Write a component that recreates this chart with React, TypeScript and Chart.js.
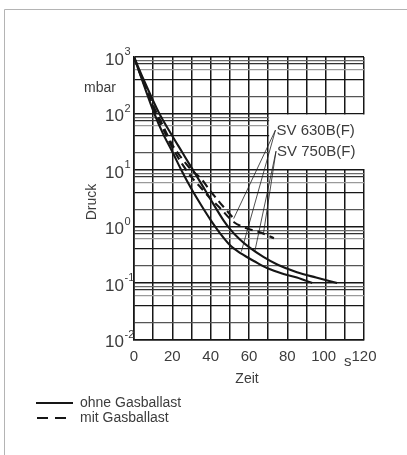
import React, { useEffect, useRef } from 'react';
import { Chart, registerables } from 'chart.js';

Chart.register(...registerables);

// ---- data (time in s, pressure in mbar) ----
const T_SOLID_A = [0, 5, 10.6, 15, 20, 25, 30, 35, 40, 45, 50, 56, 63, 70, 78, 85, 93];
const P_SOLID_A = [1000, 330, 100, 45, 21, 9.5, 4.6, 2.4, 1.3, 0.75, 0.47, 0.33, 0.24, 0.18, 0.145, 0.125, 0.1];

const T_SOLID_B = [0, 5, 13.2, 20, 25, 30, 35, 40, 46.6, 50, 55, 60, 67.5, 75, 85, 95, 106];
const P_SOLID_B = [1000, 400, 100, 40, 21, 11, 5.8, 3.0, 1.3, 0.91, 0.6, 0.43, 0.29, 0.21, 0.155, 0.125, 0.1];

const T_DASH_A = [0, 5, 10, 15, 20, 25, 30, 35, 40, 45, 52];
const P_DASH_A = [1000, 360, 140, 62, 28, 16, 10, 7, 4.2, 2.6, 1.38];

const T_DASH_B = [0, 5, 10, 15, 20, 25, 30, 35, 40, 45, 52, 58, 66, 73];
const P_DASH_B = [1000, 350, 130, 55, 25, 13, 7.5, 4.8, 3.1, 2.1, 1.2, 0.95, 0.78, 0.62];

// annotation labels and their leader lines
const LABEL_TEXTS = ['SV 630B(F)', 'SV 750B(F)'];
const LABEL_T = [73.8, 74.1];
const LABEL_P = [50.8, 21.5];
const LEADER_LABEL = [0, 0, 1, 1];
const LEADER_T = [52, 56, 63, 67.5];
const LEADER_P = [1.38, 0.36, 0.36, 0.74];

// axes
const X_GRID = [0, 10, 20, 30, 40, 50, 60, 70, 80, 90, 100, 110, 120];
const X_LABELS = [0, 20, 40, 60, 80, 100, 120];
const Y_EXPONENTS = [3, 2, 1, 0, -1, -2];
const Y_MINOR_MANTISSAS = [2, 4, 6, 7.5, 8.5];
const X_TITLE = 'Zeit';
const X_UNIT = 's';
const Y_TITLE = 'Druck';
const Y_UNIT = 'mbar';
const LEGEND_TEXTS = ['ohne Gasballast', 'mit Gasballast'];

const FONT = '"Liberation Sans", Arial, Helvetica, sans-serif';
const TEXT = '#3c3c3c';
const INK = '#161616';

function pts(t: number[], p: number[]) {
  return t.map((x, i) => ({ x, y: p[i] }));
}

function buildYGrid(): number[] {
  const out: number[] = [];
  for (let e = -2; e <= 3; e++) {
    out.push(Math.pow(10, e));
    if (e < 3) {
      for (const m of Y_MINOR_MANTISSAS) out.push(m * Math.pow(10, e));
    }
  }
  return out.sort((a, b) => a - b);
}

function mantissa(v: number): number {
  const e = Math.floor(Math.log10(v) + 1e-9);
  return Math.round((v / Math.pow(10, e)) * 100) / 100;
}

export default function App() {
  const ref = useRef<HTMLCanvasElement>(null);

  useEffect(() => {
    const canvas = ref.current;
    if (!canvas) return;
    const yGrid = buildYGrid();

    const overlay = {
      id: 'overlay',
      beforeDraw(chart: any) {
        const ctx = chart.ctx;
        ctx.save();
        ctx.fillStyle = '#ffffff';
        ctx.fillRect(0, 0, chart.width, chart.height);
        ctx.strokeStyle = '#b4b4b4';
        ctx.lineWidth = 1;
        ctx.beginPath();
        ctx.moveTo(4.5, chart.height);
        ctx.lineTo(4.5, 9.5);
        ctx.lineTo(chart.width, 9.5);
        ctx.stroke();
        ctx.restore();
      },
      beforeDatasetsDraw(chart: any) {
        const ctx = chart.ctx;
        const xs = chart.scales.x;
        const ys = chart.scales.y;
        ctx.save();
        ctx.fillStyle = '#ffffff';
        const x0 = xs.getPixelForValue(70) + 1;
        const x1 = xs.getPixelForValue(120) + 3;
        const y0 = ys.getPixelForValue(100) + 1;
        const y1 = ys.getPixelForValue(10) - 1;
        ctx.fillRect(x0, y0, x1 - x0, y1 - y0);
        ctx.restore();
      },
      afterDraw(chart: any) {
        const ctx = chart.ctx;
        const xs = chart.scales.x;
        const ys = chart.scales.y;
        const area = chart.chartArea;
        ctx.save();
        ctx.fillStyle = TEXT;

        // y tick labels 10^n
        for (const e of Y_EXPONENTS) {
          const py = ys.getPixelForValue(Math.pow(10, e));
          ctx.font = `17px ${FONT}`;
          ctx.textAlign = 'right';
          ctx.textBaseline = 'middle';
          ctx.fillText('10', area.left - 10, py + 3);
          ctx.font = `11px ${FONT}`;
          ctx.textAlign = 'left';
          ctx.fillText(String(e), area.left - 9.5, py - 5);
        }

        // x tick labels
        ctx.font = `15px ${FONT}`;
        ctx.textAlign = 'center';
        ctx.textBaseline = 'middle';
        for (const v of X_LABELS) {
          const px = xs.getPixelForValue(v) - (v === 100 ? 2 : 0);
          ctx.fillText(String(v), px, area.bottom + 17.5);
        }
        ctx.fillText(X_UNIT, (xs.getPixelForValue(110) + xs.getPixelForValue(113)) / 2, area.bottom + 22.5);

        // axis titles
        ctx.font = `14px ${FONT}`;
        ctx.fillText(X_TITLE, (area.left + area.right) / 2 - 2, area.bottom + 39.5);
        ctx.textAlign = 'right';
        ctx.fillText(Y_UNIT, area.left - 18, area.top + 31);
        ctx.save();
        ctx.translate(area.left - 42, area.top + 145);
        ctx.rotate(-Math.PI / 2);
        ctx.textAlign = 'center';
        ctx.fillText(Y_TITLE, 0, 0);
        ctx.restore();

        // annotation labels
        ctx.font = `15px ${FONT}`;
        ctx.textAlign = 'left';
        ctx.textBaseline = 'middle';
        LABEL_TEXTS.forEach((txt, i) => {
          const px = xs.getPixelForValue(LABEL_T[i]);
          const py = ys.getPixelForValue(LABEL_P[i]);
          ctx.fillText(txt, px + 1, py + 1);
        });

        // legend
        const lx0 = 36, lx1 = 73, ly0 = area.bottom + 63.5, ly1 = area.bottom + 78.5;
        ctx.strokeStyle = INK;
        ctx.lineWidth = 2;
        ctx.beginPath();
        ctx.moveTo(lx0, ly0);
        ctx.lineTo(lx1, ly0);
        ctx.stroke();
        ctx.setLineDash([11, 7]);
        ctx.beginPath();
        ctx.moveTo(lx0 + 1, ly1);
        ctx.lineTo(lx1, ly1);
        ctx.stroke();
        ctx.setLineDash([]);
        ctx.font = `14px ${FONT}`;
        ctx.fillStyle = TEXT;
        ctx.textAlign = 'left';
        ctx.fillText(LEGEND_TEXTS[0], 80, ly0);
        ctx.fillText(LEGEND_TEXTS[1], 80, ly1);
        ctx.restore();
      },
    };

    const curve = (data: any[], dashed: boolean) => ({
      data,
      borderColor: INK,
      borderWidth: 2.1,
      borderDash: dashed ? [8, 5] : [],
      pointRadius: 0,
      fill: false,
      cubicInterpolationMode: 'monotone' as const,
    });

    const leaders = LEADER_T.map((t, i) => ({
      data: [
        { x: LABEL_T[LEADER_LABEL[i]], y: LABEL_P[LEADER_LABEL[i]] },
        { x: t, y: LEADER_P[i] },
      ],
      borderColor: '#222222',
      borderWidth: 0.8,
      pointRadius: 0,
      fill: false,
    }));

    const chart = new Chart(canvas, {
      type: 'line',
      data: {
        datasets: [
          curve(pts(T_SOLID_A, P_SOLID_A), false),
          curve(pts(T_SOLID_B, P_SOLID_B), false),
          curve(pts(T_DASH_A, P_DASH_A), true),
          curve(pts(T_DASH_B, P_DASH_B), true),
          ...leaders,
        ] as any,
      },
      options: {
        animation: false,
        responsive: false,
        devicePixelRatio: 1,
        layout: { padding: { left: 134, top: 57, right: 43, bottom: 115.5 } },
        plugins: { legend: { display: false }, tooltip: { enabled: false } },
        scales: {
          x: {
            type: 'linear',
            min: 0,
            max: 120,
            afterBuildTicks: (scale: any) => {
              scale.ticks = X_GRID.map((v) => ({ value: v }));
            },
            ticks: { display: false },
            grid: { color: INK, lineWidth: 1.5, drawTicks: false },
            border: { display: true, color: INK, width: 1.6 },
          },
          y: {
            type: 'logarithmic',
            min: 0.01,
            max: 1000,
            afterBuildTicks: (scale: any) => {
              scale.ticks = yGrid.map((v) => ({ value: v }));
            },
            ticks: { display: false },
            grid: {
              drawTicks: false,
              color: (ctx: any) => {
                const m = mantissa(ctx.tick.value);
                if (m === 1 || m === 4) return INK;
                if (m === 2) return '#555555';
                if (m === 6) return '#9a9a9a';
                if (m === 7.5) return '#333333';
                return '#6a6a6a';
              },
              lineWidth: (ctx: any) => {
                const m = mantissa(ctx.tick.value);
                return m === 1 ? 1.6 : 1.3;
              },
            },
            border: { display: true, color: INK, width: 1.6 },
          },
        },
      },
      plugins: [overlay],
    } as any);

    return () => chart.destroy();
  }, []);

  return (
    <div style={{ position: 'fixed', left: 0, top: 0, width: 407, height: 455, background: '#fff' }}>
      <canvas ref={ref} width={407} height={455} style={{ display: 'block', width: 407, height: 455 }} />
    </div>
  );
}
